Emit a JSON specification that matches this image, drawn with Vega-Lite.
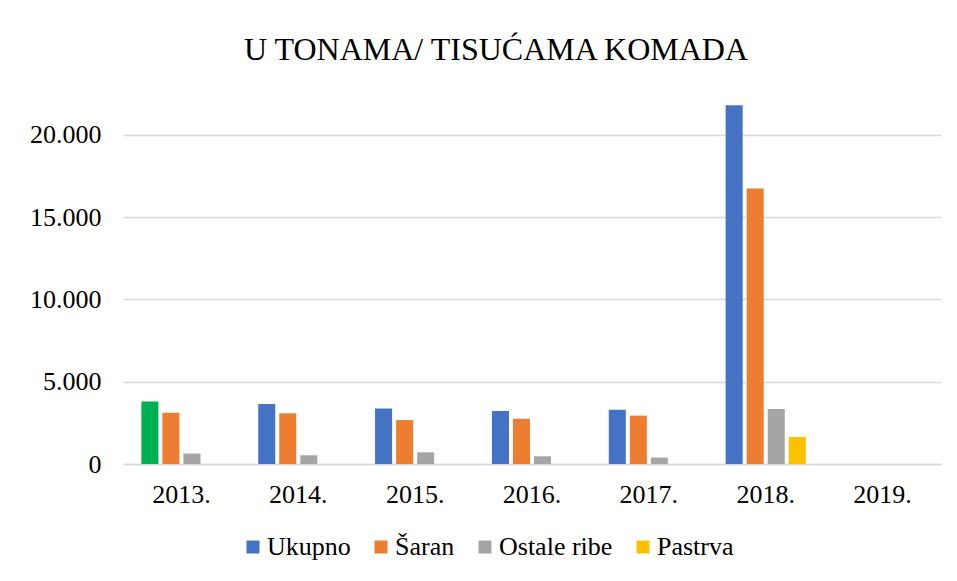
{
  "$schema": "https://vega.github.io/schema/vega-lite/v6.json",
  "width": 818,
  "height": 362,
  "autosize": "none",
  "padding": {"left": 123, "top": 102, "right": 16, "bottom": 117},
  "background": "white",
  "title": {
    "text": "U TONAMA/ TISUĆAMA KOMADA",
    "font": "'Liberation Serif', 'Times New Roman', serif",
    "fontSize": 32,
    "fontWeight": "normal",
    "color": "#000000",
    "anchor": "middle",
    "baseline": "alphabetic",
    "offset": 10,
    "dx": -36
  },
  "config": {
    "view": {"stroke": null},
    "font": "'Liberation Serif', 'Times New Roman', serif"
  },
  "data": {
    "values": [
      {"year": "2013.", "series": "Ukupno", "value": 3800},
      {"year": "2013.", "series": "Šaran", "value": 3120},
      {"year": "2013.", "series": "Ostale ribe", "value": 640},
      {"year": "2014.", "series": "Ukupno", "value": 3650},
      {"year": "2014.", "series": "Šaran", "value": 3080},
      {"year": "2014.", "series": "Ostale ribe", "value": 530},
      {"year": "2015.", "series": "Ukupno", "value": 3380},
      {"year": "2015.", "series": "Šaran", "value": 2670},
      {"year": "2015.", "series": "Ostale ribe", "value": 710},
      {"year": "2016.", "series": "Ukupno", "value": 3220},
      {"year": "2016.", "series": "Šaran", "value": 2750},
      {"year": "2016.", "series": "Ostale ribe", "value": 470},
      {"year": "2017.", "series": "Ukupno", "value": 3300},
      {"year": "2017.", "series": "Šaran", "value": 2940},
      {"year": "2017.", "series": "Ostale ribe", "value": 390},
      {"year": "2018.", "series": "Ukupno", "value": 21810},
      {"year": "2018.", "series": "Šaran", "value": 16750},
      {"year": "2018.", "series": "Ostale ribe", "value": 3340},
      {"year": "2018.", "series": "Pastrva", "value": 1640}
    ]
  },
  "mark": {"type": "bar"},
  "encoding": {
    "x": {
      "field": "year",
      "type": "nominal",
      "scale": {
        "domain": ["2013.", "2014.", "2015.", "2016.", "2017.", "2018.", "2019."],
        "paddingInner": 0.28,
        "paddingOuter": 0.14
      },
      "axis": {
        "title": null,
        "labelAngle": 0,
        "labelFont": "'Liberation Serif', 'Times New Roman', serif",
        "labelFontSize": 26,
        "labelColor": "#000000",
        "labelPadding": 17,
        "ticks": false,
        "domainColor": "#D9D9D9",
        "domainWidth": 1.5,
        "grid": false
      }
    },
    "xOffset": {
      "field": "series",
      "type": "nominal",
      "scale": {
        "domain": ["Ukupno", "Šaran", "Ostale ribe", "Pastrva"],
        "paddingInner": 0.19,
        "paddingOuter": 0.095
      }
    },
    "y": {
      "field": "value",
      "type": "quantitative",
      "scale": {"domain": [0, 22000], "nice": false},
      "axis": {
        "title": null,
        "values": [0, 5000, 10000, 15000, 20000],
        "labelExpr": "replace(format(datum.value, ','), ',', '.')",
        "labelFont": "'Liberation Serif', 'Times New Roman', serif",
        "labelFontSize": 26,
        "labelColor": "#000000",
        "labelPadding": 22,
        "ticks": false,
        "domain": false,
        "gridColor": "#D9D9D9",
        "gridWidth": 1.5
      }
    },
    "color": {
      "condition": {
        "test": "datum.year === '2013.' && datum.series === 'Ukupno'",
        "value": "#00B050"
      },
      "field": "series",
      "type": "nominal",
      "scale": {
        "domain": ["Ukupno", "Šaran", "Ostale ribe", "Pastrva"],
        "range": ["#4472C4", "#ED7D31", "#A5A5A5", "#FFC000"]
      },
      "legend": {
        "title": null,
        "orient": "none",
        "direction": "horizontal",
        "legendX": 117,
        "legendY": 432,
        "symbolType": "square",
        "symbolSize": 169,
        "symbolStrokeWidth": 0,
        "labelFont": "'Liberation Serif', 'Times New Roman', serif",
        "labelFontSize": 26,
        "labelColor": "#000000",
        "labelOffset": 1,
        "columnPadding": 17
      }
    }
  }
}
